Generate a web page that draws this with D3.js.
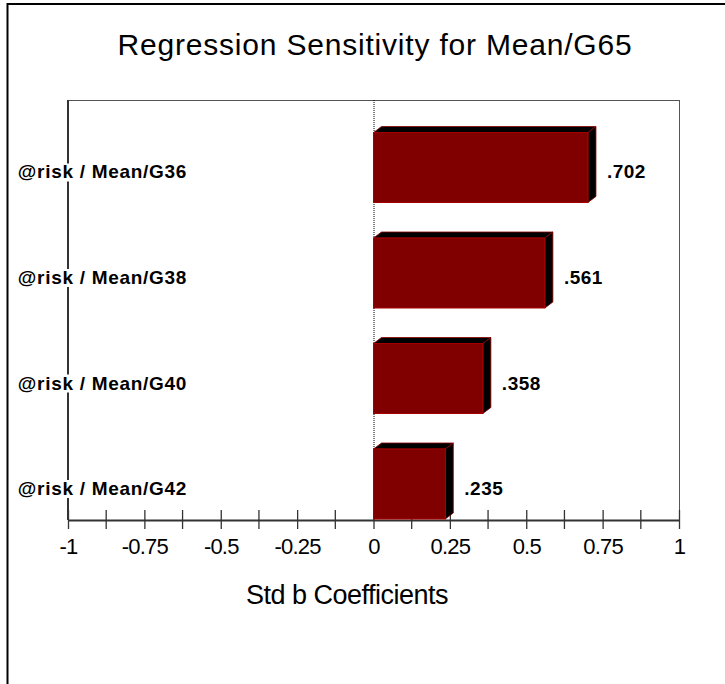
<!DOCTYPE html>
<html>
<head>
    <meta charset="utf-8" />
    <title>Regression Sensitivity</title>
    <style>
        body { margin: 0; background: #fff; }
        svg text { font-family: "Liberation Sans", Arial, sans-serif; }
    </style>
</head>
<body>
<svg width="725" height="684"></svg>

<script src="https://cdn.jsdelivr.net/npm/d3@7"></script>
<script>
    // data
    var categories = ['@risk / Mean/G36', '@risk / Mean/G38', '@risk / Mean/G40', '@risk / Mean/G42'];
    var coefficients = [0.702, 0.561, 0.358, 0.235];
    var valueLabels = ['.702', '.561', '.358', '.235'];
    var majorTicks = [-1, -0.75, -0.5, -0.25, 0, 0.25, 0.5, 0.75, 1];
    var tickLabels = ['-1', '-0.75', '-0.5', '-0.25', '0', '0.25', '0.5', '0.75', '1'];
    var minorTicks = [-0.875, -0.625, -0.375, -0.125, 0.125, 0.375, 0.625, 0.875];

    var svg = d3.select('svg');
    var plotLeft = 68, plotRight = 679, plotTop = 100, plotBottom = 520;
    var depthX = 8, depthY = -6;

    var x = d3.scaleLinear().domain([-1, 1]).range([plotLeft, plotRight]);
    var y = d3.scaleBand()
        .domain(categories)
        .range([132.5, 519])
        .paddingInner(0.3365);

    // outer frame (only left and top are in view)
    svg.append('rect')
        .attr('x', 7.5).attr('y', 4)
        .attr('width', 900).attr('height', 900)
        .attr('fill', 'none')
        .attr('stroke', '#000')
        .attr('stroke-width', 2);

    // title
    svg.append('text')
        .attr('x', 375).attr('y', 55)
        .attr('text-anchor', 'middle')
        .attr('font-size', 30)
        .attr('letter-spacing', 0.8)
        .text('Regression Sensitivity for Mean/G65');

    // plot frame: top and right thin lines, left thicker
    svg.append('line')
        .attr('x1', plotLeft).attr('x2', plotRight + 1)
        .attr('y1', plotTop + 0.5).attr('y2', plotTop + 0.5)
        .attr('stroke', '#555').attr('stroke-width', 1);
    svg.append('line')
        .attr('x1', plotRight + 0.5).attr('x2', plotRight + 0.5)
        .attr('y1', plotTop).attr('y2', plotBottom)
        .attr('stroke', '#555').attr('stroke-width', 1);
    svg.append('line')
        .attr('x1', plotLeft).attr('x2', plotLeft)
        .attr('y1', plotTop).attr('y2', plotBottom)
        .attr('stroke', '#333').attr('stroke-width', 2);

    // x axis, ticks cross the line
    var gx = svg.append('g').attr('transform', 'translate(0,' + plotBottom + ')');
    gx.call(d3.axisBottom(x)
        .tickValues(majorTicks)
        .tickSizeOuter(0)
        .tickPadding(12)
        .tickFormat(function (d, i) { return tickLabels[i]; }));
    gx.select('.domain').attr('stroke', '#333').attr('stroke-width', 2);
    gx.selectAll('.tick line').attr('y1', -10).attr('y2', 9).attr('stroke', '#333').attr('stroke-width', 1.3);
    gx.selectAll('.tick text')
        .attr('font-size', 22)
        .attr('letter-spacing', -0.8)
        .attr('fill', '#000')
        .attr('font-family', '"Liberation Sans", Arial, sans-serif');

    var gm = svg.append('g').attr('transform', 'translate(0,' + plotBottom + ')');
    gm.selectAll('line')
        .data(minorTicks)
        .enter()
        .append('line')
        .attr('x1', function (d) { return x(d); })
        .attr('x2', function (d) { return x(d); })
        .attr('y1', -10).attr('y2', 9)
        .attr('stroke', '#333').attr('stroke-width', 1.3);

    // zero line, dotted
    svg.append('line')
        .attr('x1', x(0) + 0.5).attr('x2', x(0) + 0.5)
        .attr('y1', plotTop).attr('y2', plotBottom)
        .attr('stroke', '#000')
        .attr('stroke-width', 1)
        .attr('stroke-dasharray', '1,1');

    // 3d bars
    var bars = svg.append('g').selectAll('g')
        .data(categories)
        .enter()
        .append('g');

    bars.append('polygon')
        .attr('points', function (d, i) {
            var x0 = x(0), x1 = x(coefficients[i]), y0 = y(d);
            return [[x0, y0], [x0 + depthX, y0 + depthY], [x1 + depthX, y0 + depthY], [x1, y0]].join(' ');
        })
        .attr('fill', '#000')
        .attr('stroke', '#8b0000')
        .attr('stroke-width', 0.8);

    bars.append('polygon')
        .attr('points', function (d, i) {
            var x1 = x(coefficients[i]), y0 = y(d), y1 = y(d) + y.bandwidth();
            return [[x1, y0], [x1 + depthX, y0 + depthY], [x1 + depthX, y1 + depthY], [x1, y1]].join(' ');
        })
        .attr('fill', '#000')
        .attr('stroke', '#8b0000')
        .attr('stroke-width', 0.8);

    bars.append('rect')
        .attr('x', x(0))
        .attr('y', function (d) { return y(d); })
        .attr('width', function (d, i) { return x(coefficients[i]) - x(0); })
        .attr('height', y.bandwidth())
        .attr('fill', '#800000')
        .attr('stroke', '#a50000')
        .attr('stroke-width', 1);

    bars.append('text')
        .attr('x', function (d, i) { return x(coefficients[i]) + depthX + 11; })
        .attr('y', function (d) { return y(d) + y.bandwidth() / 2 + 11; })
        .attr('font-size', 19)
        .attr('font-weight', 'bold')
        .attr('letter-spacing', 0.5)
        .text(function (d, i) { return valueLabels[i]; });

    // category labels with white backing over the left axis
    var labels = svg.append('g').selectAll('g')
        .data(categories)
        .enter()
        .append('g');

    labels.append('text')
        .attr('x', 187)
        .attr('y', function (d) { return y(d) + y.bandwidth() / 2 + 11; })
        .attr('text-anchor', 'end')
        .attr('font-size', 19)
        .attr('font-weight', 'bold')
        .attr('letter-spacing', 0.7)
        .text(function (d) { return d; });

    labels.each(function () {
        var g = d3.select(this);
        var b = g.select('text').node().getBBox();
        g.insert('rect', 'text')
            .attr('x', b.x - 1).attr('y', b.y + 2)
            .attr('width', b.width + 2).attr('height', b.height - 3)
            .attr('fill', '#fff');
    });

    // axis title
    svg.append('text')
        .attr('x', 347).attr('y', 604)
        .attr('text-anchor', 'middle')
        .attr('font-size', 27)
        .attr('letter-spacing', -0.5)
        .text('Std b Coefficients');
</script>
</body>
</html>
